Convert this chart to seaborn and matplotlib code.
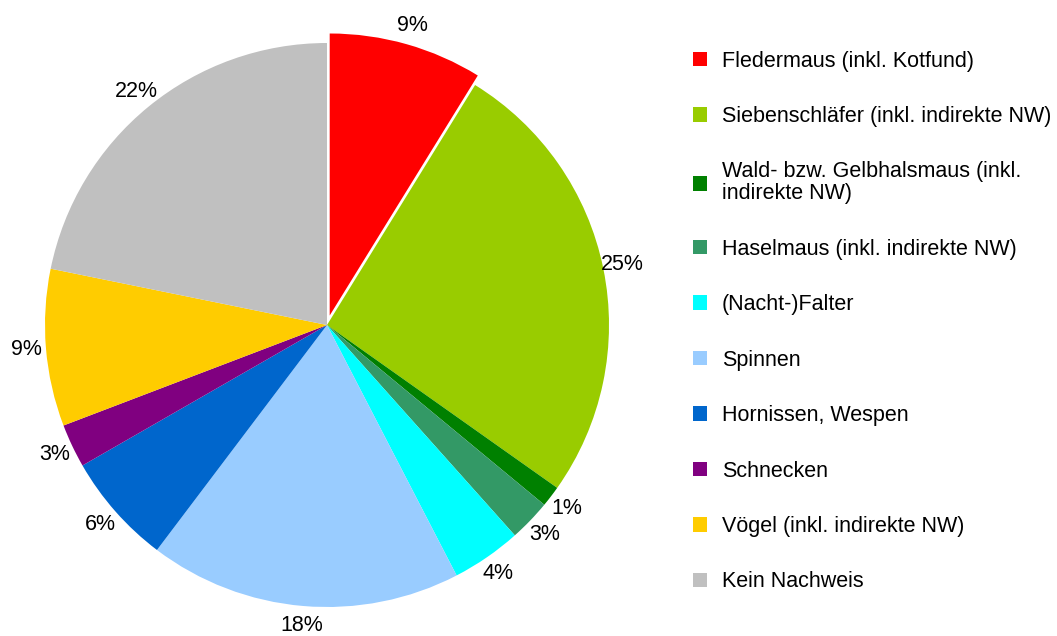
import matplotlib
matplotlib.use('Agg')
from matplotlib import pyplot as plt
import seaborn as sns

# categories (legend order = slice order, clockwise from 12 o'clock)
categories = [
    'Fledermaus (inkl. Kotfund)',
    'Siebenschläfer (inkl. indirekte NW)',
    'Wald- bzw. Gelbhalsmaus (inkl.\nindirekte NW)',
    'Haselmaus (inkl. indirekte NW)',
    '(Nacht-)Falter',
    'Spinnen',
    'Hornissen, Wespen',
    'Schnecken',
    'Vögel (inkl. indirekte NW)',
    'Kein Nachweis',
]
# shares in percent
shares = [8.8, 26.0, 1.2, 2.4, 4.0, 17.9, 6.4, 2.5, 9.0, 21.8]
# percent labels as printed on the chart
pct_labels = ['9%', '25%', '1%', '3%', '4%', '18%', '6%', '3%', '9%', '22%']
colors = ['#FF0000', '#99CC00', '#008000', '#339966', '#00FFFF',
          '#99CCFF', '#0066CC', '#800080', '#FFCC00', '#C0C0C0']
explode = [0.035, 0, 0, 0, 0, 0, 0, 0, 0, 0]

sns.set_theme(style='white')
plt.rcParams['font.family'] = ['Liberation Sans', 'DejaVu Sans']
plt.rcParams['text.color'] = 'black'

W, H = 1057, 636
fig = plt.figure(figsize=(W / 100, H / 100), dpi=100)

# square axes so that the pie radius is ~282 px, centred at (327, 325)
lim = 1.15
side = 2 * lim * 282
cx, cy = 327, H - 325
ax = fig.add_axes([(cx - side / 2) / W, (cy - side / 2) / H, side / W, side / H])

wedges, texts = ax.pie(
    shares, labels=pct_labels, colors=colors, explode=explode,
    startangle=90, counterclock=False, labeldistance=1.07,
    wedgeprops={'linewidth': 0},
    textprops={'fontsize': 15.5, 'color': 'black', 'ha': 'center', 'va': 'center'},
)
ax.set_xlim(-lim, lim)
ax.set_ylim(-lim, lim)
ax.set_aspect('equal')
ax.axis('off')

leg = fig.legend(
    wedges, categories, loc='upper left',
    bbox_to_anchor=(684 / W, 1 - 42 / H), frameon=False,
    fontsize=15.5, handlelength=0.65, handleheight=0.65, handletextpad=0.7,
    labelspacing=1.6, borderaxespad=0,
)
for t in leg.get_texts():
    t.set_linespacing(1.05)
    t.set_color('black')

fig.savefig('out.png', dpi=100)
